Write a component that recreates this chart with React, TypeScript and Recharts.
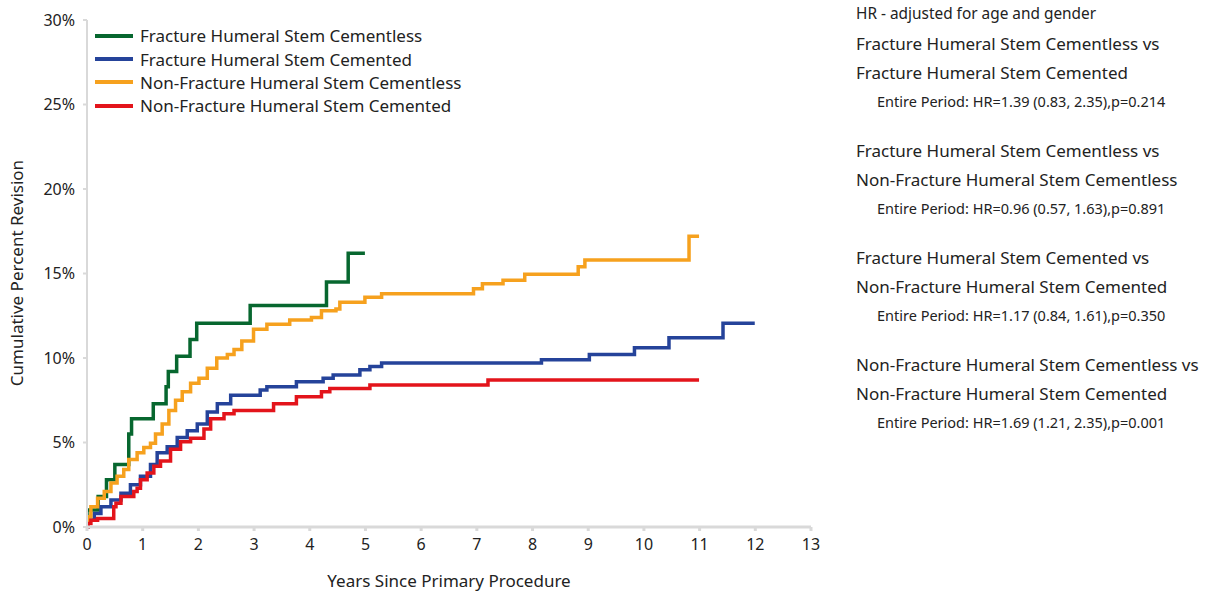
import React from "react";
import { CartesianGrid, Line, LineChart, XAxis, YAxis } from "recharts";

// Kaplan-Meier style cumulative revision curves (step after)
const fxCementlessYears = [0, 0, 0.2, 0.35, 0.5, 0.75, 0.8, 1.19, 1.42, 1.46, 1.61, 1.85, 1.97, 2.93, 4.3, 4.69, 4.99];
const fxCementlessPct = [0, 1.0, 1.8, 2.8, 3.7, 5.5, 6.4, 7.3, 8.3, 9.2, 10.1, 11.1, 12.05, 13.1, 14.5, 16.2, 16.2];

const fxCementedYears = [0, 0.02, 0.13, 0.25, 0.43, 0.61, 0.78, 0.96, 1.14, 1.26, 1.44, 1.62, 1.8, 1.98, 2.16, 2.34, 2.58, 3.11, 3.23, 3.76, 4.24, 4.42, 4.9, 5.08, 5.29, 8.16, 9.02, 9.83, 10.45, 11.42, 11.99];
const fxCementedPct = [0, 0.4, 0.8, 1.2, 1.6, 2.0, 2.5, 3.0, 3.7, 4.4, 4.75, 5.3, 5.7, 6.1, 6.8, 7.3, 7.8, 8.1, 8.3, 8.6, 8.8, 9.0, 9.3, 9.5, 9.7, 9.9, 10.2, 10.6, 11.2, 12.05, 12.05];

const nonFxCementlessYears = [0, 0.02, 0.07, 0.19, 0.31, 0.43, 0.54, 0.66, 0.75, 0.9, 1.02, 1.14, 1.23, 1.35, 1.47, 1.59, 1.71, 1.86, 2.01, 2.16, 2.33, 2.52, 2.64, 2.78, 2.99, 3.23, 3.64, 4.03, 4.21, 4.47, 4.54, 4.99, 5.29, 6.94, 7.1, 7.47, 7.86, 8.82, 8.94, 10.81, 10.99];
const nonFxCementlessPct = [0.2, 0.6, 1.2, 1.7, 2.1, 2.6, 3.0, 3.4, 4.0, 4.4, 4.7, 4.95, 5.5, 6.1, 6.9, 7.5, 8.0, 8.5, 8.8, 9.4, 10.0, 10.2, 10.5, 11.0, 11.7, 12.0, 12.25, 12.4, 12.8, 12.9, 13.3, 13.6, 13.8, 14.1, 14.4, 14.6, 14.95, 15.4, 15.8, 17.2, 17.2];

const nonFxCementedYears = [0, 0.02, 0.07, 0.19, 0.48, 0.52, 0.61, 0.84, 0.9, 0.96, 1.08, 1.2, 1.32, 1.5, 1.68, 1.86, 2.1, 2.22, 2.46, 2.64, 3.35, 3.76, 4.21, 4.36, 5.08, 7.2, 10.99];
const nonFxCementedPct = [0, 0.2, 0.4, 0.5, 1.2, 1.4, 1.8, 2.1, 2.3, 2.8, 3.2, 3.6, 3.9, 4.6, 5.05, 5.25, 5.8, 6.4, 6.7, 6.9, 7.3, 7.7, 8.0, 8.2, 8.4, 8.7, 8.7];

const xTicks = [0, 1, 2, 3, 4, 5, 6, 7, 8, 9, 10, 11, 12, 13];
const yTicks = [0, 5, 10, 15, 20, 25, 30];

const hrNote = "HR - adjusted for age and gender";
const comparisons = [
  { a: "Fracture Humeral Stem Cementless vs", b: "Fracture Humeral Stem Cemented", hr: "Entire Period: HR=1.39 (0.83, 2.35),p=0.214" },
  { a: "Fracture Humeral Stem Cementless vs", b: "Non-Fracture Humeral Stem Cementless", hr: "Entire Period: HR=0.96 (0.57, 1.63),p=0.891" },
  { a: "Fracture Humeral Stem Cemented vs", b: "Non-Fracture Humeral Stem Cemented", hr: "Entire Period: HR=1.17 (0.84, 1.61),p=0.350" },
  { a: "Non-Fracture Humeral Stem Cementless vs", b: "Non-Fracture Humeral Stem Cemented", hr: "Entire Period: HR=1.69 (1.21, 2.35),p=0.001" },
];

const zip = (xs: number[], ys: number[]) => xs.map((x, i) => ({ x, y: ys[i] }));

const series = [
  { name: "Fracture Humeral Stem Cementless", color: "#07672F", data: zip(fxCementlessYears, fxCementlessPct) },
  { name: "Fracture Humeral Stem Cemented", color: "#25439A", data: zip(fxCementedYears, fxCementedPct) },
  { name: "Non-Fracture Humeral Stem Cementless", color: "#F6A11E", data: zip(nonFxCementlessYears, nonFxCementlessPct) },
  { name: "Non-Fracture Humeral Stem Cemented", color: "#E3141B", data: zip(nonFxCementedYears, nonFxCementedPct) },
];

const font = "'Noto Sans', 'Open Sans', sans-serif";
const textColor = "#222";

export default function App() {
  return (
    <div style={{ position: "absolute", left: 0, top: 0, width: 1206, height: 592, background: "#fff", fontFamily: font, color: textColor }}>
      <LineChart width={840} height={592} margin={{ top: 20, right: 29, left: 0, bottom: 0 }}>
        <CartesianGrid horizontal={false} vertical={false} />
        <XAxis
          type="number"
          dataKey="x"
          domain={[0, 13]}
          ticks={xTicks}
          allowDataOverflow
          height={65}
          stroke="#D9D9D9"
          strokeWidth={3}
          tickSize={4}
          tickMargin={8}
          tick={{ fill: textColor, fontSize: 16, fontFamily: font }}
          label={{ value: "Years Since Primary Procedure", position: "insideBottom", offset: 5, fill: textColor, fontSize: 17, fontFamily: font }}
        />
        <YAxis
          type="number"
          domain={[0, 30]}
          ticks={yTicks}
          width={87}
          stroke="#D9D9D9"
          strokeWidth={2}
          tickSize={4}
          tickMargin={8}
          tickFormatter={(v: number) => `${v}%`}
          tick={{ fill: textColor, fontSize: 16, fontFamily: font }}
        />
        {series.map((s) => (
          <Line
            key={s.name}
            data={s.data}
            dataKey="y"
            name={s.name}
            type="stepAfter"
            stroke={s.color}
            strokeWidth={3.5}
            dot={false}
            activeDot={false}
            isAnimationActive={false}
          />
        ))}
      </LineChart>

      {/* Y axis title */}
      <div
        style={{
          position: "absolute",
          left: 16,
          top: 273,
          transform: "translate(-50%, -50%) rotate(-90deg)",
          whiteSpace: "nowrap",
          fontSize: 17,
        }}
      >
        Cumulative Percent Revision
      </div>

      {/* Legend */}
      <div style={{ position: "absolute", left: 95, top: 24 }}>
        {series.map((s) => (
          <div key={s.name} style={{ display: "flex", alignItems: "center", height: 23.4 }}>
            <div style={{ width: 38, height: 4, background: s.color, marginRight: 7 }} />
            <span style={{ fontSize: 17, whiteSpace: "nowrap" }}>{s.name}</span>
          </div>
        ))}
      </div>

      {/* Hazard ratio notes */}
      <div style={{ position: "absolute", left: 856, top: 3, fontSize: 15.4, whiteSpace: "nowrap" }}>{hrNote}</div>
      {comparisons.map((c, i) => (
        <div key={i} style={{ position: "absolute", left: 856, top: 28.5 + i * 107, whiteSpace: "nowrap" }}>
          <div style={{ fontSize: 17, height: 29, lineHeight: "29px" }}>{c.a}</div>
          <div style={{ fontSize: 17, height: 29, lineHeight: "29px" }}>{c.b}</div>
          <div style={{ fontSize: 14.5, height: 29, lineHeight: "29px", paddingLeft: 21 }}>{c.hr}</div>
        </div>
      ))}
    </div>
  );
}
